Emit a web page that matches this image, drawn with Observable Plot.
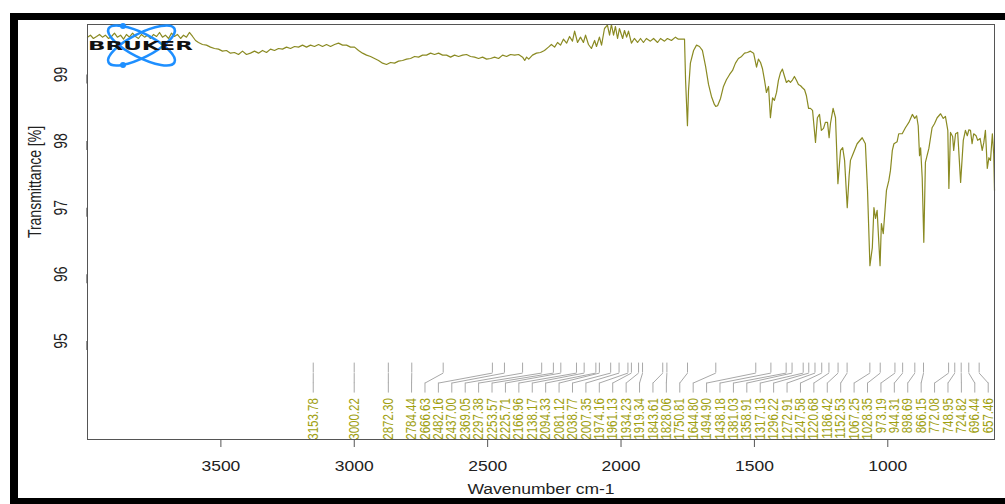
<!DOCTYPE html>
<html><head><meta charset="utf-8">
<script src="https://cdn.jsdelivr.net/npm/d3@7"></script>
<script src="https://cdn.jsdelivr.net/npm/@observablehq/plot@0.6"></script>
<style>
html,body{margin:0;padding:0;background:#fff;}
#wrap{position:relative;width:1005px;height:504px;overflow:hidden;font-family:"Liberation Sans",Arial,sans-serif;}
#frame{position:absolute;left:10px;top:13px;width:1010px;height:491px;box-sizing:border-box;border-left:8px solid #000;border-top:7px solid #000;border-bottom:6px solid #000;}
#chart{position:absolute;left:0;top:0;}
#logo{position:absolute;left:0;top:0;pointer-events:none;}
</style></head><body>
<div id="wrap"><div id="frame"></div><div id="chart"></div>
<svg id="logo" width="1005" height="504">
  <g fill="none" stroke="#1e8fff" stroke-width="2.6">
    <ellipse cx="141.5" cy="45.5" rx="37" ry="12" transform="rotate(27 141.5 45.5)"/>
    <ellipse cx="141.5" cy="45.5" rx="37" ry="12" transform="rotate(-27 141.5 45.5)"/>
  </g>
  <circle cx="123" cy="26" r="3" fill="#1e8fff"/>
  <circle cx="123" cy="65" r="3" fill="#1e8fff"/>
  <text x="88" y="50" font-family="DejaVu Sans" font-weight="bold" font-size="13" textLength="105" lengthAdjust="spacingAndGlyphs" fill="#111">BRUKER</text>
</svg>
</div>
<script>
// ---- data ----
const xTicks = [3500, 3000, 2500, 2000, 1500, 1000];
const yTicks = [95, 96, 97, 98, 99];
const xTitle = "Wavenumber cm-1";
const yTitle = "Transmittance [%]";
const peakWavenumbers = [3153.78, 3000.22, 2872.30, 2784.44, 2666.63, 2482.16, 2437.00, 2369.05, 2297.38,
  2253.57, 2225.71, 2166.96, 2138.17, 2094.33, 2081.12, 2038.77, 2007.35, 1974.16, 1961.13, 1934.23,
  1919.34, 1843.61, 1828.06, 1750.81, 1644.80, 1494.90, 1438.18, 1381.03, 1358.91, 1317.13, 1296.22,
  1272.91, 1247.58, 1220.68, 1186.42, 1152.53, 1067.25, 1028.35, 973.19, 944.31, 898.69, 866.15,
  772.08, 748.95, 724.82, 696.44, 657.46];
// spectrum: [wavenumber cm-1, transmittance %]
const spectrum = [
[4000,99.56],[3989,99.59],[3978,99.54],[3966,99.57],[3955,99.60],[3944,99.56],[3933,99.59],[3921,99.54],[3910,99.57],[3899,99.62],[3888,99.56],[3876,99.59],[3865,99.53],[3854,99.60],[3843,99.56],[3831,99.62],[3820,99.57],[3809,99.54],[3798,99.60],[3786,99.56],[3775,99.59],[3764,99.54],[3753,99.60],[3741,99.57],[3730,99.63],[3719,99.56],[3708,99.59],[3696,99.54],[3685,99.62],[3674,99.57],[3663,99.60],[3651,99.54],[3640,99.59],[3629,99.56],[3618,99.63],[3606,99.57],[3595,99.51],
[3584,99.48],[3569,99.45],[3554,99.44],[3539,99.41],[3524,99.39],[3509,99.38],[3494,99.35],[3479,99.36],[3464,99.32],[3449,99.33],[3434,99.30],[3419,99.35],[3404,99.30],[3389,99.32],[3374,99.35],[3359,99.32],[3344,99.36],[3329,99.33],[3314,99.38],[3299,99.36],[3284,99.39],[3269,99.38],[3254,99.41],[3239,99.39],[3224,99.42],[3209,99.41],[3194,99.44],[3179,99.41],[3164,99.44],[3149,99.42],[3134,99.45],[3119,99.42],[3104,99.45],[3089,99.42],[3074,99.45],[3059,99.47],[3044,99.44],[3029,99.44],
[3014,99.41],[2999,99.41],[2984,99.36],[2969,99.32],[2954,99.29],[2939,99.27],[2924,99.24],[2909,99.21],[2894,99.17],[2879,99.15],[2864,99.18],[2849,99.17],[2834,99.20],[2819,99.21],[2804,99.23],[2789,99.24],[2774,99.27],[2759,99.26],[2744,99.29],[2729,99.29],[2714,99.32],[2699,99.30],[2684,99.32],[2669,99.29],[2654,99.29],[2639,99.26],[2624,99.29],[2609,99.27],[2594,99.29],[2579,99.30],[2564,99.27],[2549,99.26],[2534,99.24],[2519,99.26],[2504,99.23],[2489,99.24],[2474,99.26],[2459,99.24],[2444,99.29],[2429,99.27],[2414,99.30],[2399,99.29],[2384,99.30],[2369,99.26],[2361,99.21],[2354,99.26],[2346,99.23],[2332,99.29],[2317,99.32],[2302,99.33],[2287,99.36],
[2272,99.41],[2261,99.45],[2249,99.41],[2238,99.48],[2227,99.44],[2216,99.53],[2204,99.47],[2193,99.57],[2182,99.50],[2174,99.65],[2163,99.48],[2152,99.56],[2141,99.48],[2133,99.59],[2122,99.45],[2111,99.39],[2099,99.51],[2092,99.42],[2081,99.56],[2073,99.44],[2062,99.69],[2051,99.74],[2043,99.59],[2036,99.75],[2028,99.59],[2021,99.72],[2013,99.54],[2006,99.69],[1994,99.54],[1987,99.66],[1979,99.56],[1972,99.65],[1961,99.47],[1950,99.54],[1938,99.48],[1927,99.54],[1916,99.48],[1905,99.54],[1890,99.50],[1878,99.54],[1863,99.48],[1852,99.54],[1837,99.50],[1826,99.54],[1811,99.51],[1796,99.56],[1785,99.53],[1770,99.53],
[1762,99.53],[1758,98.91],[1751,98.23],[1747,98.76],[1740,99.17],[1728,99.36],[1717,99.44],[1706,99.42],[1695,99.36],[1683,99.12],[1672,98.85],[1661,98.67],[1650,98.55],[1645,98.52],[1638,98.53],[1627,98.64],[1616,98.82],[1605,98.92],[1593,99.00],[1582,99.06],[1571,99.17],[1560,99.24],[1548,99.27],[1537,99.32],[1526,99.33],[1515,99.35],[1503,99.32],[1492,99.11],[1485,99.23],[1477,99.18],[1470,99.09],[1462,98.91],[1455,98.73],[1447,98.82],[1440,98.35],[1432,98.65],[1425,98.61],[1417,98.73],[1410,98.91],[1402,99.03],[1395,99.08],[1387,98.97],[1380,98.88],[1372,98.91],[1365,98.88],[1357,98.92],[1350,98.97],[1342,98.91],[1335,98.85],[1327,98.83],[1320,98.80],[1312,98.77],[1305,98.68],[1297,98.49],[1290,98.49],[1282,98.46],[1271,97.98],[1264,98.35],[1256,98.40],[1249,98.16],[1241,98.19],[1234,98.28],[1226,98.28],[1220,98.05],[1215,98.26],[1205,98.49],[1196,98.35],[1187,97.36],[1177,97.86],[1169,97.90],[1162,97.71],[1152,97.00],[1145,97.48],[1140,97.71],[1130,97.81],[1115,97.96],[1096,98.05],[1084,97.96],[1076,97.26],[1067,96.13],[1058,96.40],[1052,97.00],[1046,96.84],[1040,96.96],[1035,96.58],[1029,96.13],[1024,96.76],[1017,96.61],[1012,96.88],[1005,97.26],[996,97.41],[990,97.56],[983,97.86],[977,97.96],[965,97.99],[959,98.11],[946,98.11],[934,98.20],[921,98.28],[908,98.40],[899,98.34],[892,98.38],[886,98.23],[881,97.78],[877,97.90],[871,97.45],[865,96.48],[859,97.68],[846,97.89],[834,98.20],[825,98.26],[815,98.35],[802,98.41],[792,98.34],[784,98.37],[775,98.16],[771,97.29],[765,98.13],[757,98.07],[753,97.86],[746,98.11],[738,98.13],[727,97.38],[717,98.01],[709,98.16],[702,98.08],[696,98.17],[690,98.16],[684,97.96],[678,98.11],[669,98.08],[663,98.01],[654,98.04],[646,97.86],[640,97.98],[634,98.16],[627,97.59],[621,97.75],[615,97.71],[608,98.11],[603,97.81],[600,97.26]
];

// ---- label layout (keep labels apart, push against right end) ----
const LABEL_GAP = 50.27;      // cm-1 between neighbouring labels
const LABEL_MIN_W = 623.6;    // right-most allowed label position
function spreadLabels(ws) {
  const n = ws.length;
  const q = ws.map((w, i) => -w - i * LABEL_GAP);
  const blocks = [];
  for (let i = 0; i < n; i++) {
    blocks.push({sum: q[i], cnt: 1});
    while (blocks.length > 1) {
      const a = blocks[blocks.length - 2], b = blocks[blocks.length - 1];
      if (a.sum / a.cnt > b.sum / b.cnt) { a.sum += b.sum; a.cnt += b.cnt; blocks.pop(); } else break;
    }
  }
  const fit = [];
  for (const b of blocks) for (let k = 0; k < b.cnt; k++) fit.push(b.sum / b.cnt);
  const cap = -LABEL_MIN_W - (n - 1) * LABEL_GAP;
  return fit.map((f, i) => -(Math.min(f, cap) + i * LABEL_GAP));
}
const labelW = spreadLabels(peakWavenumbers);
const peaks = peakWavenumbers.map((w, i) => ({w, lw: labelW[i], text: w.toFixed(2)}));

// connector levels (transmittance units)
const T_A = 94.667, T_B = 94.517, T_C = 94.367, T_D = 94.217, T_E = 94.14;

const lineColor = "#8a8a22";
const labelColor = "#a0a010";
const connColor = "#a8a8a8";

const chart = Plot.plot({
  width: 1005, height: 504,
  marginLeft: 87, marginRight: 11, marginTop: 24, marginBottom: 65,
  style: {background: "transparent", fontFamily: "'Liberation Sans', Arial, sans-serif", fontSize: "14px", color: "#222"},
  x: {domain: [4000, 600]},
  y: {domain: [93.52, 99.75]},
  marks: [
    Plot.ruleX(peaks, {x: "w", y1: T_A, y2: T_B, stroke: connColor, strokeWidth: 1}),
    Plot.link(peaks, {x1: "w", y1: T_B, x2: "lw", y2: T_C, stroke: connColor, strokeWidth: 1}),
    Plot.ruleX(peaks, {x: "lw", y1: T_C, y2: T_D, stroke: connColor, strokeWidth: 1}),
    Plot.text(peaks, {x: "lw", y: T_E, text: "text", rotate: -90, textAnchor: "end", lineAnchor: "middle", fill: labelColor, fontSize: 11.5}),
    Plot.line(spectrum, {x: d => d[0], y: d => d[1], stroke: lineColor, strokeWidth: 1.2}),
    Plot.frame({stroke: "#555", strokeWidth: 1}),
    Plot.axisX({ticks: xTicks, tickSize: 8, tickPadding: 14, tickFormat: d => String(d), label: null, stroke: "#555", fill: "#222", fontSize: 14}),
    Plot.axisY({ticks: yTicks, tickSize: 9, tickPadding: 17, tickFormat: d => String(d), label: null, rotate: -90, textAnchor: "middle", lineAnchor: "middle", stroke: "#555", fill: "#222", fontSize: 14}),
    Plot.text([xTitle], {text: d => d, frameAnchor: "bottom", dy: 50, textAnchor: "middle", lineAnchor: "middle", fontSize: 14, fill: "#222"}),
    Plot.text([yTitle], {text: d => d, frameAnchor: "left", dx: -52, dy: -50, rotate: -90, textAnchor: "middle", lineAnchor: "middle", fontSize: 14, fill: "#222"})
  ]
});
document.getElementById("chart").appendChild(chart);

// the reference is stretched horizontally by about 1.25: mimic it on the texts
const STRETCH = 1.25;
const wide = new Set([...xTicks.map(String), xTitle]);
chart.querySelectorAll("text").forEach(t => {
  if (wide.has(t.textContent)) {
    const len = t.getComputedTextLength();
    t.setAttribute("textLength", (len * STRETCH).toFixed(1));
    t.setAttribute("lengthAdjust", "spacingAndGlyphs");
  }
});
chart.querySelectorAll("[transform]").forEach(el => {
  const tr = el.getAttribute("transform");
  if (/rotate\(-90\)/.test(tr)) el.setAttribute("transform", tr.replace(/rotate\(-90\)/, `scale(${STRETCH},1) rotate(-90)`));
});
</script>
</body></html>
